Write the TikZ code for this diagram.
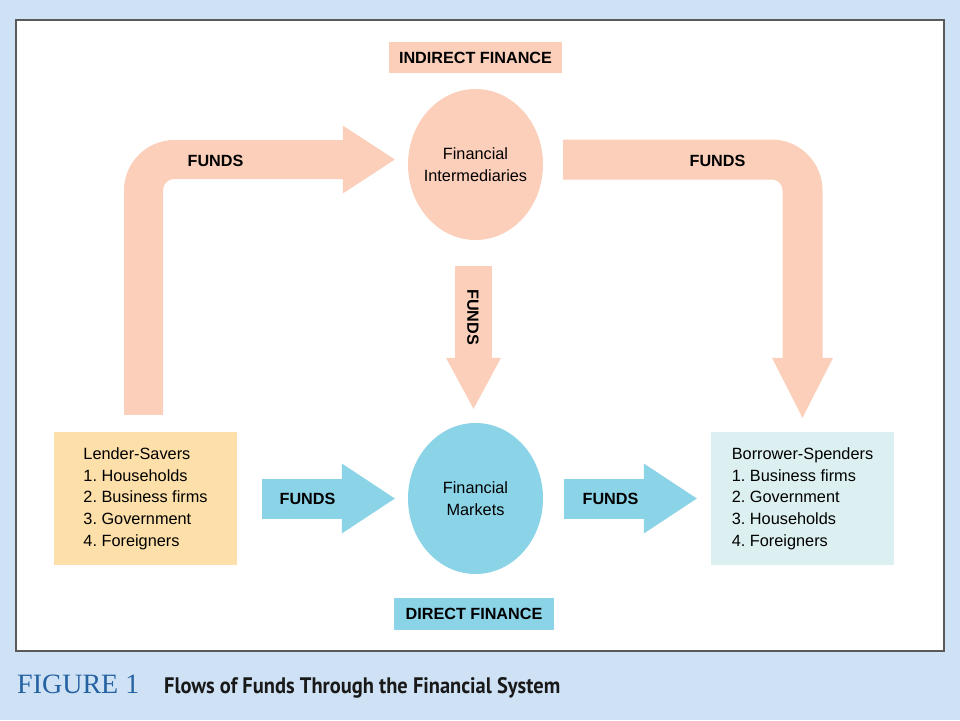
\documentclass[tikz,border=0pt]{standalone}
\usepackage{fontspec}
\usepackage{graphicx}
\setmainfont{Liberation Sans}
\newfontfamily\figfont{Liberation Serif}
\newfontfamily\capfont{PT Sans}
\usetikzlibrary{arrows.meta,shapes.geometric}
\definecolor{pageblue}{HTML}{CFE1F4}
\definecolor{salmon}{HTML}{FBCFBA}
\definecolor{skyblue}{HTML}{8BD3E7}
\definecolor{cream}{HTML}{FDDFA9}
\definecolor{paleteal}{HTML}{DDF0F1}
\definecolor{framegray}{HTML}{5A5A5A}
\definecolor{figblue}{HTML}{2462A2}
\frenchspacing
\tikzset{
  bodytext/.style={font=\fontsize{16.3}{21.7}\selectfont, text=black},
  fundslabel/.style={font=\fontsize{16.2}{19}\selectfont\bfseries, text=black, inner sep=0pt},
  tagbox/.style={fundslabel, minimum height=31pt},
  pool/.style={ellipse, bodytext, align=center, minimum width=135pt, minimum height=151pt, inner sep=-12pt},
  party/.style={rectangle, bodytext, align=left, minimum width=183pt, minimum height=133pt, inner sep=0pt},
}
\begin{document}
\begin{tikzpicture}[x=1pt,y=-1pt]
  \fill[pageblue] (0,0) rectangle (960,720);
  \useasboundingbox (0,0) rectangle (960,720);
  \draw[framegray, line width=1.5pt, fill=white] (16,20) rectangle (944,651);

  % nodes
  \node[tagbox, fill=salmon, minimum width=173pt] (indirect) at (475.5,57.5) {INDIRECT FINANCE};
  \node[pool, fill=salmon] (intermed) at (475.5,164.5) {Financial\\Intermediaries};
  \node[pool, fill=skyblue] (markets) at (475.5,498.5) {Financial\\Markets};
  \node[party, fill=cream] (lender) at (145.5,498.5)
    {Lender-Savers\\1. Households\\2. Business firms\\3. Government\\4. Foreigners};
  \node[party, fill=paleteal] (borrower) at (802.5,498.5)
    {Borrower-Spenders\\1. Business firms\\2. Government\\3. Households\\4. Foreigners};
  \node[tagbox, fill=skyblue, minimum width=160pt, minimum height=32pt] (direct) at (474,614) {DIRECT FINANCE};

  % indirect flows
  \draw[salmon, line width=39pt, rounded corners=31pt, -{Triangle[width=68pt,length=52pt,line width=0pt]}]
    ([xshift=-2pt,yshift=17pt]lender.north) |- ([xshift=-13pt,yshift=5pt]intermed.west);
  \draw[salmon, line width=40pt, rounded corners=31pt, -{Triangle[width=61pt,length=60pt,line width=0pt]}]
    ([xshift=20pt,yshift=5pt]intermed.east) -| ([yshift=14pt]borrower.north);
  \draw[salmon, line width=37pt, -{Triangle[width=55pt,length=51pt,line width=0pt]}]
    ([xshift=-2pt,yshift=-26pt]intermed.south) -- ([xshift=-2pt,yshift=14pt]markets.north);

  % direct flows
  \draw[skyblue, line width=40pt, -{Triangle[width=70pt,length=53pt,line width=0pt]}]
    ([xshift=25pt]lender.east) -- ([xshift=-13pt]markets.west);
  \draw[skyblue, line width=40pt, -{Triangle[width=70pt,length=53pt,line width=0pt]}]
    ([xshift=21pt]markets.east) -- ([xshift=-14pt]borrower.west);

  % labels on the flows
  \node[fundslabel] (fundsa) at (215.5,161) {FUNDS};
  \node[fundslabel] (fundsb) at (717.5,161) {FUNDS};
  \node[fundslabel, rotate=-90] (fundsc) at (473,317) {FUNDS};
  \node[fundslabel] (fundsd) at (307.5,499) {FUNDS};
  \node[fundslabel] (fundse) at (610.5,499) {FUNDS};

  % caption
  \node[anchor=base west, inner sep=0pt, text=figblue, font=\figfont\fontsize{28}{30}\selectfont] (fignum) at (17,693) {FIGURE 1};
  \node[anchor=base west, inner sep=0pt, text=black!90] (figtitle) at (164,693)
    {\resizebox{396pt}{16pt}{\capfont\bfseries Flows of Funds Through the Financial System}};
\end{tikzpicture}
\end{document}
